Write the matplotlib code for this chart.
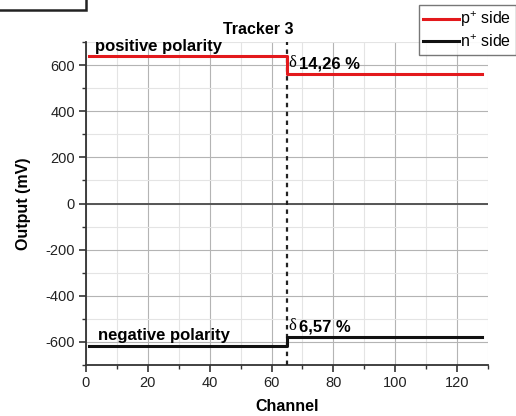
import matplotlib
matplotlib.use("Agg")
import matplotlib.pyplot as plt
from matplotlib.patches import Rectangle
from matplotlib.ticker import MultipleLocator

plt.rcParams['font.family'] = ['Liberation Sans', 'DejaVu Sans']
plt.rcParams['axes.unicode_minus'] = False
plt.rcParams['mathtext.fontset'] = 'custom'
plt.rcParams['mathtext.rm'] = 'Liberation Sans'
plt.rcParams['mathtext.it'] = 'Liberation Sans'

# Output levels per channel segment (mV)
p_channels = [1, 65, 65, 128]
p_output = [641, 641, 561, 561]
n_channels = [1, 65, 65, 128]
n_output = [-616, -616, -578, -578]
split_channel = 65
p_delta_label = "14,26 %"
n_delta_label = "6,57 %"

fig = plt.figure(figsize=(5.16, 4.16), dpi=100)
ax = fig.add_axes([86 / 516, 1 - 365 / 416, (488 - 86) / 516, (365 - 42) / 416])

ax.set_xlim(0, 130)
ax.set_ylim(-700, 700)
ax.xaxis.set_major_locator(MultipleLocator(20))
ax.xaxis.set_minor_locator(MultipleLocator(10))
ax.yaxis.set_major_locator(MultipleLocator(200))
ax.yaxis.set_minor_locator(MultipleLocator(100))
ax.grid(which='major', color='#b4b4b4', lw=0.8)
ax.grid(which='minor', color='#e4e4e4', lw=0.8)
ax.set_axisbelow(True)

for s in ('top', 'right'):
    ax.spines[s].set_visible(False)
for s in ('left', 'bottom'):
    ax.spines[s].set_linewidth(1.3)
    ax.spines[s].set_color('#333333')
ax.tick_params(which='major', direction='out', length=5, width=1.2, labelsize=10.5,
               colors='#333333', pad=3)
ax.tick_params(which='minor', direction='out', length=3, width=1.0, colors='#333333')
ax.tick_params(labelcolor='#222222')

ax.axhline(0, color='#555555', lw=1.4, zorder=1.5)
ax.axvline(split_channel, color='#222222', lw=1.6, ls=(0, (2, 2)), zorder=3)

ax.plot(p_channels, p_output, color='#e3191c', lw=2.2, label='p$^{+}$ side', zorder=4)
ax.plot(n_channels, n_output, color='#111111', lw=2.2, label='n$^{+}$ side', zorder=4)

ax.text(3, p_output[0] + 8, 'positive polarity', fontsize=12, fontweight='bold', va='bottom', ha='left')
ax.text(4, n_output[0] + 12, 'negative polarity', fontsize=12, fontweight='bold', va='bottom', ha='left')
for y, lab in ((p_output[-1], p_delta_label), (n_output[-1], n_delta_label)):
    ax.text(split_channel + 0.6, y + 12, 'δ', fontsize=12, family='Liberation Serif',
            va='bottom', ha='left')
    ax.text(split_channel + 4.0, y + 12, lab, fontsize=12, fontweight='bold',
            va='bottom', ha='left')

ax.set_xlabel('Channel', fontsize=11.5, fontweight='bold')
ax.xaxis.set_label_coords(0.5, -0.105)
ax.set_ylabel('Output (mV)', fontsize=11.5, fontweight='bold')
ax.yaxis.set_label_coords(-0.138, 0.5)
fig.text(258 / 516, 1 - 30 / 416, 'Tracker 3', fontsize=11.5, fontweight='bold', ha='center', va='center')

leg = fig.legend(loc='upper right', bbox_to_anchor=(1.0, 1 - 5 / 416), fontsize=11.5,
                 frameon=True, fancybox=False, handlelength=2.2, handletextpad=0.1,
                 borderpad=0.3, labelspacing=0.25, borderaxespad=0)
leg.get_frame().set_edgecolor('#555555')
leg.get_frame().set_linewidth(1.0)

fig.patches.append(Rectangle((-0.01, 1 - 10 / 416), 86 / 516 + 0.01, 0.05,
                             transform=fig.transFigure, fill=False,
                             edgecolor='#222222', lw=1.8))

fig.savefig('out.png', dpi=100)
